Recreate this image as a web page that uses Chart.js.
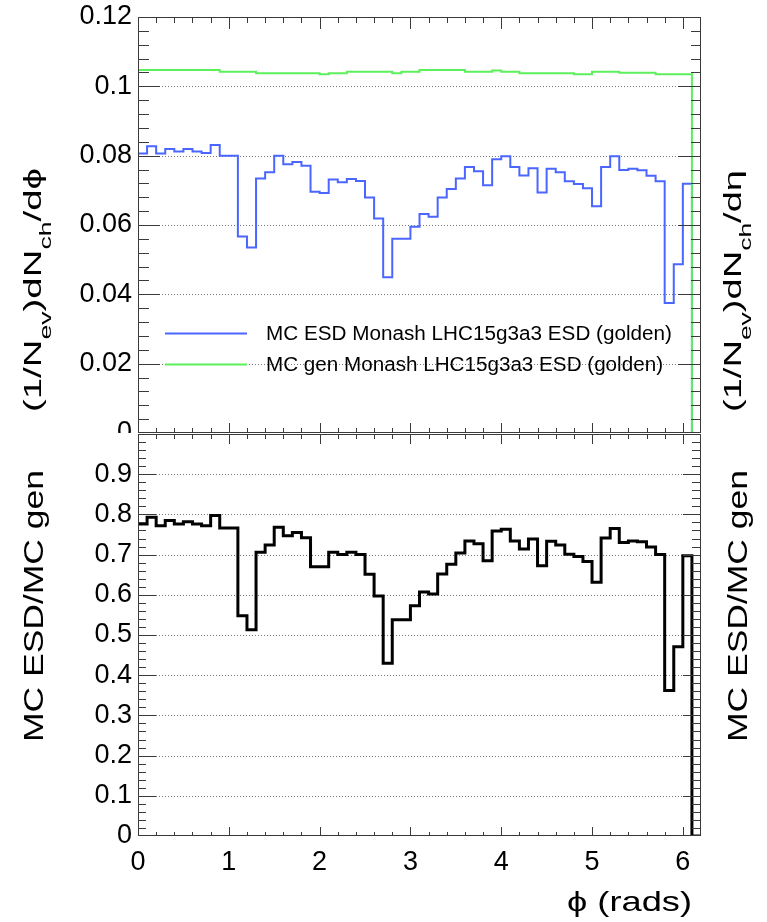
<!DOCTYPE html>
<html>
<head>
<meta charset="utf-8">
<script src="https://cdn.jsdelivr.net/npm/chart.js@4.4.1/dist/chart.umd.min.js"></script>
<style>
  body { margin: 0; background: #fff; width: 767px; height: 922px; position: relative; overflow: hidden; }
  #top { position: absolute; left: 0; top: 0; }
  #bottom { position: absolute; left: 0; top: 433px; }
</style>
</head>
<body>
<canvas id="top" width="767" height="460"></canvas>
<canvas id="bottom" width="767" height="489"></canvas>
<script>
// bin edges in phi (rads)
const phiEdges = [0, 0.1, 0.2, 0.3, 0.4, 0.5, 0.6, 0.7, 0.8, 0.9, 1.0, 1.1, 1.2, 1.3, 1.4, 1.5, 1.6, 1.7, 1.8, 1.9,
  2.0, 2.1, 2.2, 2.3, 2.4, 2.5, 2.6, 2.7, 2.8, 2.9, 3.0, 3.1, 3.2, 3.3, 3.4, 3.5, 3.6, 3.7, 3.8, 3.9,
  4.0, 4.1, 4.2, 4.3, 4.4, 4.5, 4.6, 4.7, 4.8, 4.9, 5.0, 5.1, 5.2, 5.3, 5.4, 5.5, 5.6, 5.7, 5.8, 5.9,
  6.0, 6.1, 6.2];

const esdVals = [0.0806, 0.0827, 0.0806, 0.0819, 0.0812, 0.0819, 0.0812, 0.0808, 0.0831, 0.0800,
  0.0800, 0.0567, 0.0535, 0.0734, 0.0752, 0.0800, 0.0775, 0.0782, 0.0771, 0.0696,
  0.0692, 0.0731, 0.0723, 0.0733, 0.0727, 0.0679, 0.0619, 0.0449, 0.0560, 0.0560,
  0.0595, 0.0632, 0.0624, 0.0679, 0.0704, 0.0734, 0.0767, 0.0755, 0.0715, 0.0790,
  0.0798, 0.0767, 0.0743, 0.0764, 0.0694, 0.0762, 0.0752, 0.0726, 0.0718, 0.0706,
  0.0654, 0.0767, 0.0798, 0.0759, 0.0762, 0.0758, 0.0742, 0.0726, 0.0375, 0.0487,
  0.0719, 0];

const genVals = [0.1047, 0.1047, 0.1047, 0.1047, 0.1047, 0.1047, 0.1047, 0.1047, 0.1047, 0.1042,
  0.1042, 0.1042, 0.1042, 0.1038, 0.1038, 0.1038, 0.1038, 0.1038, 0.1038, 0.1038,
  0.1035, 0.1038, 0.1038, 0.1042, 0.1042, 0.1042, 0.1042, 0.1042, 0.1038, 0.1042,
  0.1042, 0.1047, 0.1047, 0.1047, 0.1047, 0.1047, 0.1042, 0.1042, 0.1042, 0.1046,
  0.1042, 0.1042, 0.1038, 0.1038, 0.1038, 0.1038, 0.1038, 0.1038, 0.1035, 0.1035,
  0.1042, 0.1042, 0.1042, 0.1039, 0.1039, 0.1039, 0.1039, 0.1035, 0.1035, 0.1035,
  0.1035, 0];

const ratioVals = [0.776, 0.793, 0.772, 0.785, 0.776, 0.782, 0.776, 0.772, 0.797, 0.766,
  0.766, 0.548, 0.513, 0.706, 0.724, 0.768, 0.747, 0.755, 0.742, 0.670,
  0.670, 0.706, 0.700, 0.706, 0.700, 0.651, 0.597, 0.430, 0.538, 0.538,
  0.573, 0.607, 0.602, 0.652, 0.676, 0.704, 0.734, 0.727, 0.685, 0.759,
  0.763, 0.734, 0.714, 0.739, 0.672, 0.733, 0.724, 0.701, 0.695, 0.683,
  0.631, 0.741, 0.765, 0.730, 0.734, 0.732, 0.719, 0.700, 0.362, 0.471,
  0.697, 0];

const xTicks = [0, 1, 2, 3, 4, 5, 6];
const yTicksTop = [0, 0.02, 0.04, 0.06, 0.08, 0.1, 0.12];
const yTicksBottom = [0, 0.1, 0.2, 0.3, 0.4, 0.5, 0.6, 0.7, 0.8, 0.9, 1];

const legendLabels = ['MC ESD Monash LHC15g3a3 ESD (golden)', 'MC gen Monash LHC15g3a3 ESD (golden)'];

const FONT = '"Liberation Sans", Arial, Helvetica, "DejaVu Sans", sans-serif';
const BLUE = '#4a66ff';
const GREEN = '#5cf05c';

function histPoints(vals) {
  // one point per bin edge, the last edge repeats the last bin
  return phiEdges.map((x, i) => ({ x: x, y: vals[Math.min(i, vals.length - 1)] }));
}

function histSet(vals, color, width, order) {
  return {
    data: histPoints(vals),
    borderColor: color,
    borderWidth: width,
    stepped: true,
    pointRadius: 0,
    fill: false,
    order: order
  };
}

// rotated axis title, parts are [text, subscript]
function vText(ctx, parts, x, y0, len, size) {
  const main = size + 'px ' + FONT;
  const sub = Math.round(size * 0.7) + 'px ' + FONT;
  let total = 0;
  parts.forEach(p => { ctx.font = p[1] ? sub : main; total += ctx.measureText(p[0]).width; });
  ctx.save();
  ctx.fillStyle = '#000';
  ctx.textBaseline = 'alphabetic';
  ctx.textAlign = 'left';
  ctx.translate(x, y0);
  ctx.rotate(-Math.PI / 2);
  ctx.scale(len / total, 1);
  let u = 0;
  parts.forEach(p => {
    ctx.font = p[1] ? sub : main;
    ctx.fillText(p[0], u, p[1] ? size * 0.45 : 0);
    u += ctx.measureText(p[0]).width;
  });
  ctx.restore();
}

function hText(ctx, text, x, y, len, size) {
  ctx.save();
  ctx.font = size + 'px ' + FONT;
  ctx.fillStyle = '#000';
  ctx.textBaseline = 'alphabetic';
  ctx.textAlign = 'left';
  const w = ctx.measureText(text).width;
  ctx.translate(x, y);
  ctx.scale(len / w, 1);
  ctx.fillText(text, 0, 0);
  ctx.restore();
}

function makeFrame(cfg) {
  return {
    id: 'frame',
    beforeDraw(chart) {
      const ctx = chart.ctx;
      ctx.save();
      ctx.fillStyle = '#fff';
      ctx.fillRect(0, 0, chart.width, chart.height);
      ctx.restore();
    },
    beforeDatasetsDraw(chart) {
      const ctx = chart.ctx, a = chart.chartArea, ys = chart.scales.y;
      ctx.save();
      ctx.strokeStyle = '#777';
      ctx.lineWidth = 1;
      ctx.setLineDash([1, 2]);
      cfg.grid.forEach(v => {
        const py = Math.round(ys.getPixelForValue(v)) + 0.5;
        ctx.beginPath();
        ctx.moveTo(a.left, py);
        ctx.lineTo(a.right, py);
        ctx.stroke();
      });
      ctx.restore();
    },
    afterDatasetsDraw(chart) {
      const ctx = chart.ctx, a = chart.chartArea, xs = chart.scales.x, ys = chart.scales.y;
      ctx.save();
      ctx.strokeStyle = '#3a3a3a';
      ctx.lineWidth = 1;
      ctx.beginPath();
      for (let i = 1; i < 31; i++) {
        const px = Math.round(xs.getPixelForValue(i * 0.2)) + 0.5;
        const major = i % 5 === 0;
        ctx.moveTo(px, a.top);
        ctx.lineTo(px, a.top + (major ? cfg.xt[0] : cfg.xt[1]));
        ctx.moveTo(px, a.bottom);
        ctx.lineTo(px, a.bottom - (major ? cfg.xb[0] : cfg.xb[1]));
      }
      for (let i = 1; i < cfg.yN; i++) {
        const py = Math.round(ys.getPixelForValue(i * cfg.yStep)) + 0.5;
        const major = i % 5 === 0;
        ctx.moveTo(a.left, py);
        ctx.lineTo(a.left + (major ? cfg.yl[0] : cfg.yl[1]), py);
        ctx.moveTo(a.right, py);
        ctx.lineTo(a.right - (major ? cfg.yr[0] : cfg.yr[1]), py);
      }
      ctx.stroke();
      ctx.strokeRect(a.left + 0.5, a.top + 0.5, a.right - a.left - 1, a.bottom - a.top - 1);
      ctx.restore();
    },
    afterDraw(chart) {
      if (cfg.extra) cfg.extra(chart.ctx, chart);
    }
  };
}

function xScale(show) {
  return {
    type: 'linear',
    min: 0,
    max: 6.2,
    display: show,
    afterBuildTicks: s => { s.ticks = xTicks.map(v => ({ value: v })); },
    afterFit: s => {
      if (show) s.height = 86;
      s.paddingLeft = 0;
      s.paddingRight = 0;
    },
    grid: { display: false, drawTicks: false },
    border: { display: false },
    ticks: { color: '#000', padding: 10, maxRotation: 0, font: { family: FONT, size: 27 } }
  };
}

function yScale(max, ticks, hideTop) {
  return {
    type: 'linear',
    min: 0,
    max: max,
    afterBuildTicks: s => { s.ticks = ticks.map(v => ({ value: v })); },
    afterFit: s => {
      s.width = 138;
      s.paddingTop = 0;
      s.paddingBottom = 0;
    },
    grid: { display: false, drawTicks: false },
    border: { display: false },
    ticks: {
      color: '#000',
      padding: 6,
      font: { family: FONT, size: 27 },
      callback: v => (hideTop && v >= max) ? '' : String(+v.toFixed(2))
    }
  };
}

const topFrame = makeFrame({
  grid: [0.02, 0.04, 0.06, 0.08, 0.1],
  yN: 30, yStep: 0.004,
  xt: [12, 6], xb: [10, 5], yl: [22, 11], yr: [23, 10],
  extra: function (ctx) {
    vText(ctx, [['(1/N', 0], ['ev', 1], [')dN', 0], ['ch', 1], ['/d\u03d5', 0]], 41, 412, 244, 23);
    vText(ctx, [['(1/N', 0], ['ev', 1], [')dN', 0], ['ch', 1], ['/d\u03b7', 0]], 741, 412, 242, 23);
    // legend
    ctx.save();
    ctx.lineWidth = 2;
    ctx.strokeStyle = BLUE;
    ctx.beginPath(); ctx.moveTo(165, 333.5); ctx.lineTo(247, 333.5); ctx.stroke();
    ctx.strokeStyle = GREEN;
    ctx.beginPath(); ctx.moveTo(165, 364.5); ctx.lineTo(247, 364.5); ctx.stroke();
    ctx.restore();
    hText(ctx, legendLabels[0], 266, 340, 406, 20);
    hText(ctx, legendLabels[1], 266, 371, 397, 20);
  }
});

const bottomFrame = makeFrame({
  grid: [0.1, 0.2, 0.3, 0.4, 0.5, 0.6, 0.7, 0.8, 0.9],
  yN: 50, yStep: 0.02,
  xt: [10, 5], xb: [9, 4], yl: [18, 8], yr: [18, 9],
  extra: function (ctx) {
    vText(ctx, [['MC ESD/MC gen', 0]], 43, 309, 272, 28);
    vText(ctx, [['MC ESD/MC gen', 0]], 747, 309, 272, 28);
    hText(ctx, '\u03d5 (rads)', 567, 478, 125, 28);
  }
});

new Chart(document.getElementById('top'), {
  type: 'line',
  data: {
    datasets: [
      histSet(esdVals, BLUE, 2, 1),
      histSet(genVals, GREEN, 2, 0)
    ]
  },
  options: {
    responsive: false,
    animation: false,
    layout: { padding: { left: 0, right: 66, top: 17, bottom: 27 } },
    scales: { x: xScale(false), y: yScale(0.12, yTicksTop, false) },
    plugins: { legend: { display: false }, tooltip: { enabled: false } }
  },
  plugins: [topFrame]
});

new Chart(document.getElementById('bottom'), {
  type: 'line',
  data: { datasets: [histSet(ratioVals, '#000', 3, 0)] },
  options: {
    responsive: false,
    animation: false,
    layout: { padding: { left: 0, right: 66, top: 1, bottom: 0 } },
    scales: { x: xScale(true), y: yScale(1, yTicksBottom, true) },
    plugins: { legend: { display: false }, tooltip: { enabled: false } }
  },
  plugins: [bottomFrame]
});
</script>
</body>
</html>
